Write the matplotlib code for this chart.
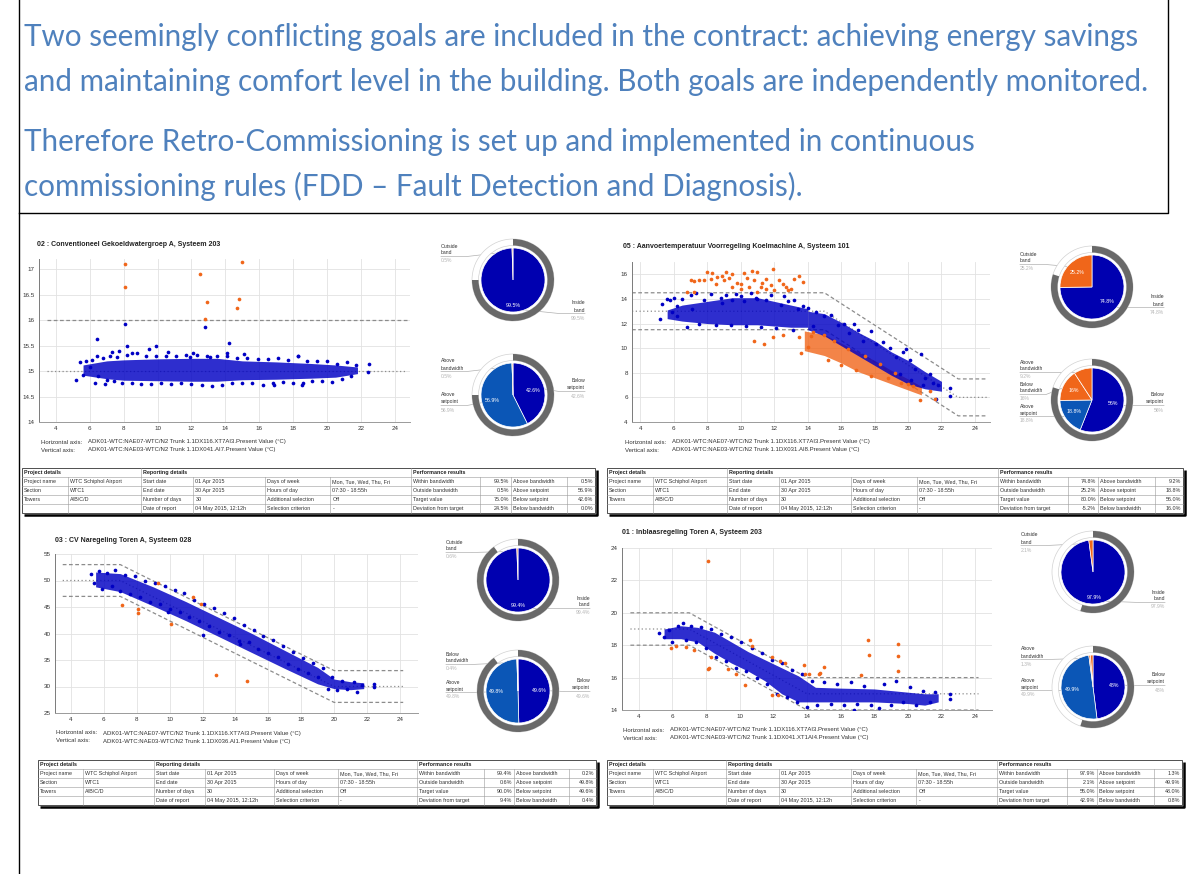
import numpy as np
import matplotlib
matplotlib.use('Agg')
import matplotlib.pyplot as plt
from matplotlib.patches import Wedge, Rectangle
from matplotlib.ticker import FormatStrFormatter

# ---------------- slide text ----------------
intro_lines = [
    'Two seemingly conflicting goals are included in the contract: achieving energy savings',
    'and maintaining comfort level in the building. Both goals are independently monitored.',
    'Therefore Retro-Commissioning is set up and implemented in continuous',
    'commissioning rules (FDD \u2013 Fault Detection and Diagnosis).',
]

# ---------------- table contents (same for all four dashboards) ----------------
project_rows = [['Project name', 'WTC Schiphol Airport'], ['Section', 'WTC1'],
                ['Towers', 'A/B/C/D'], ['', '']]
report_rows = [['Start date', '01 Apr 2015', 'Days of week', 'Mon, Tue, Wed, Thu, Fri'],
               ['End date', '30 Apr 2015', 'Hours of day', '07:30 - 18:55h'],
               ['Number of days', '30', 'Additional selection', 'Off'],
               ['Date of report', '04 May 2015, 12:12h', 'Selection criterion', '-']]
perf_labels = [['Within bandwidth', 'Above bandwidth'], ['Outside bandwidth', 'Above setpoint'],
               ['Target value', 'Below setpoint'], ['Deviation from target', 'Below bandwidth']]

# performance: within, above bw, outside, above sp, target, below sp, deviation, below bw
p1_perf = [99.5, 0.5, 0.5, 56.9, 75.0, 42.6, 24.5, 0.0]
p2_perf = [74.8, 9.2, 25.2, 18.8, 80.0, 56.0, -5.2, 16.0]
p3_perf = [99.4, 0.2, 0.6, 49.8, 90.0, 49.6, 9.4, 0.4]
p4_perf = [97.9, 1.3, 2.1, 49.9, 55.0, 48.0, 42.9, 0.8]

# ---------------- panel 1 ----------------
p1_title = '02 : Conventioneel Gekoeldwatergroep A, Systeem 203'
p1_haxis = 'ADK01-WTC:NAE07-WTC/N2 Trunk 1.1DX116.XT7AI3.Present Value (\u00b0C)'
p1_vaxis = 'ADK01-WTC:NAE03-WTC/N2 Trunk 1.1DX041.AI7.Present Value (\u00b0C)'
p1_band_x = [3.5, 24.7]
p1_upper = [16, 16]
p1_mid = [15, 15]
p1_core_x = [5.6, 7, 8, 10, 12, 13.5, 15, 17, 19, 20.5, 21.8]
p1_core_lo = [14.92, 14.85, 14.82, 14.81, 14.8, 14.8, 14.83, 14.84, 14.86, 14.88, 14.95]
p1_core_hi = [15.12, 15.2, 15.22, 15.24, 15.25, 15.25, 15.2, 15.18, 15.15, 15.12, 15.08]
p1_blue = [(5.2, 14.83), (5.4, 15.17), (5.6, 14.92), (5.8, 15.2), (6.0, 15.08), (6.3, 14.77),
           (6.4, 15.3), (6.5, 14.9), (6.8, 15.25), (7.0, 14.82), (7.2, 15.3), (7.4, 14.8),
           (7.6, 15.28), (7.9, 14.77), (8.2, 15.32), (8.5, 14.76), (8.8, 15.35), (9.0, 14.75),
           (9.3, 15.3), (9.6, 14.74), (9.9, 15.3), (10.2, 14.76), (10.5, 15.3), (10.8, 14.75),
           (11.1, 15.3), (11.4, 14.76), (11.7, 15.32), (12.0, 14.74), (12.3, 15.32), (12.6, 14.72),
           (12.9, 15.3), (13.2, 14.7), (13.5, 15.3), (13.8, 14.72), (14.1, 15.3), (14.4, 14.76),
           (14.7, 15.26), (15.0, 14.76), (15.3, 15.25), (15.6, 14.76), (15.9, 15.24), (16.2, 14.73),
           (16.5, 15.24), (16.8, 14.77), (17.1, 15.25), (17.4, 14.78), (17.7, 15.22), (18.0, 14.76),
           (18.3, 15.3), (18.5, 14.72), (18.8, 15.2), (19.1, 14.8), (19.4, 15.2), (19.7, 14.8),
           (20.0, 15.2), (20.3, 14.78), (20.6, 15.14), (20.9, 14.84), (21.2, 15.17), (21.4, 14.9),
           (21.7, 15.12), (22.5, 15.13), (22.45, 14.98), (6.4, 15.63), (8.1, 15.92), (8.2, 15.5),
           (9.9, 15.5), (12.8, 15.87), (14.2, 15.55), (7.3, 15.38), (7.7, 15.4), (8.5, 15.36),
           (9.5, 15.43), (10.6, 15.38), (15.1, 15.33), (18.3, 15.3), (14.1, 15.35), (12.1, 15.35),
           (6.1, 15.22), (6.9, 14.74), (11.9, 15.28), (13.1, 15.27), (16.9, 14.72), (18.6, 14.76)]
p1_orange = [(8.1, 17.1), (8.1, 16.65), (12.5, 16.9), (12.9, 16.35), (12.8, 16.02),
             (14.8, 16.42), (14.7, 16.23), (15.0, 17.15)]

# ---------------- panel 2 ----------------
p2_title = '05 : Aanvoertemperatuur Voorregeling Koelmachine A, Systeem 101'
p2_haxis = 'ADK01-WTC:NAE07-WTC/N2 Trunk 1.1DX116.XT7AI3.Present Value (\u00b0C)'
p2_vaxis = 'ADK01-WTC:NAE03-WTC/N2 Trunk 1.1DX031.AI8.Present Value (\u00b0C)'
p2_band_x = [3.5, 15, 23, 24.7]
p2_upper = [14.5, 14.5, 7.5, 7.5]
p2_mid = [13, 13, 6, 6]
p2_lower = [11.5, 11.5, 4.5, 4.5]
p2_core_x = [5.6, 6.5, 8, 9.5, 11, 12, 13, 14]
p2_core_lo = [12.4, 12.2, 12.0, 11.9, 11.9, 11.8, 11.7, 11.7]
p2_core_hi = [13.1, 13.5, 13.8, 14.1, 14.1, 13.8, 13.5, 13.2]
p2_diag_x = [14, 15, 16, 17, 18, 19, 20, 21, 22]
p2_diag_lo = [11.5, 11.0, 10.2, 9.4, 8.6, 7.8, 7.1, 6.7, 6.5]
p2_diag_hi = [13.0, 12.8, 12.1, 11.3, 10.6, 9.7, 9.0, 8.1, 7.3]
p2_odiag_x = [13.8, 15, 16, 17, 18, 19, 20, 20.8]
p2_odiag_lo = [9.8, 9.4, 8.8, 8.1, 7.6, 7.1, 6.6, 6.2]
p2_odiag_hi = [11.4, 11.1, 10.4, 9.7, 9.0, 8.2, 7.5, 6.9]
p2_blue = [(5.2, 12.4), (5.3, 13.6), (5.6, 14.0), (5.8, 13.9), (6.0, 14.1), (6.2, 12.6), (6.5, 14.0),
           (6.8, 11.7), (7.0, 14.3), (7.3, 14.45), (7.5, 12.0), (7.8, 13.9), (8.2, 14.4), (8.5, 11.9),
           (8.8, 14.1), (9.1, 14.3), (9.4, 11.9), (9.7, 14.4), (10.0, 14.2), (10.3, 11.8), (10.6, 14.5),
           (10.9, 14.1), (11.2, 11.7), (11.5, 13.9), (11.8, 14.3), (12.1, 11.6), (12.4, 13.5),
           (12.8, 13.8), (13.1, 11.5), (13.4, 13.2), (13.7, 13.4), (14.0, 13.3), (14.3, 11.8),
           (14.5, 12.9), (15.0, 12.6), (15.4, 12.7), (15.8, 11.9), (16.2, 12.0), (16.5, 11.2),
           (17.0, 11.5), (17.3, 10.6), (17.8, 11.4), (18.1, 10.3), (18.5, 10.5), (18.9, 10.0),
           (19.3, 9.3), (19.7, 9.7), (20.1, 9.0), (20.4, 8.3), (20.8, 9.5), (21.0, 7.6), (21.3, 7.9),
           (21.5, 7.2), (21.8, 7.0), (22.5, 6.8), (22.5, 6.1), (21.7, 5.9), (20.9, 7.0), (20.2, 7.4),
           (19.5, 7.9), (9.5, 13.9), (10.2, 13.8), (11.0, 14.0), (8.9, 13.7), (6.2, 13.4),
           (7.1, 13.2), (5.9, 12.9), (12.6, 14.2), (13.2, 13.9), (16.8, 12.0), (19.9, 9.9)]
p2_orange = [(7.0, 15.5), (7.2, 15.45), (7.5, 15.5), (7.8, 15.5), (8.0, 16.2), (8.3, 16.1),
             (9.1, 16.2), (9.5, 16.0), (10.2, 16.1), (10.7, 16.3), (11.0, 16.2), (11.9, 16.4),
             (13.5, 15.9), (13.7, 15.4), (8.6, 15.8), (9.0, 15.5), (9.8, 15.3), (10.5, 15.0),
             (11.2, 15.0), (11.5, 14.8), (12.5, 15.2), (12.8, 14.7), (13.2, 15.6), (12.0, 14.7),
             (10.0, 14.8), (8.5, 15.2), (11.5, 15.6), (9.5, 15.0), (10.8, 15.5), (11.8, 15.1),
             (12.3, 15.5), (13.0, 14.8), (11.0, 14.6), (6.8, 14.6), (7.2, 14.6), (12.7, 15.0),
             (8.9, 15.9), (9.3, 15.7), (10.4, 15.7), (11.3, 15.3), (10.0, 15.2), (8.2, 15.6),
             (10.8, 10.6), (11.4, 10.3), (11.9, 10.9), (12.5, 11.1), (13.5, 10.9), (13.6, 9.6),
             (14.0, 10.1), (14.2, 11.0), (15.2, 9.0), (15.6, 10.6), (16.0, 8.6), (16.4, 9.9),
             (16.9, 8.2), (17.4, 9.4), (17.8, 7.7), (18.3, 8.7), (18.8, 7.6), (19.2, 8.0),
             (19.6, 7.2), (20.0, 7.1), (20.3, 6.9), (20.7, 5.8), (21.3, 6.5), (21.6, 5.9),
             (14.3, 11.3), (15.0, 11.1)]

# ---------------- panel 3 ----------------
p3_title = '03 : CV Naregeling Toren A, Systeem 028'
p3_haxis = 'ADK01-WTC:NAE07-WTC/N2 Trunk 1.1DX116.XT7AI3.Present Value (\u00b0C)'
p3_vaxis = 'ADK01-WTC:NAE03-WTC/N2 Trunk 1.1DX036.AI1.Present Value (\u00b0C)'
p3_band_x = [3.5, 7, 20, 24.2]
p3_upper = [53, 53, 33, 33]
p3_mid = [50, 50, 30, 30]
p3_lower = [47, 47, 27, 27]
p3_core_x = [5.5, 7, 9, 11, 13, 15, 17, 19, 20, 21, 21.8]
p3_core_lo = [48.8, 47.9, 45.2, 42.4, 39.4, 36.4, 33.4, 30.5, 29.6, 29.4, 29.6]
p3_core_hi = [51.6, 51.3, 48.8, 46.0, 43.0, 40.0, 36.8, 33.6, 31.4, 30.9, 30.7]
p3_blue = [(5.2, 51.3), (5.4, 49.6), (5.7, 51.8), (5.9, 48.4), (6.2, 51.5), (6.5, 49.0), (6.7, 51.9),
           (7.0, 48.0), (7.3, 51.1), (7.6, 47.5), (7.9, 50.9), (8.2, 46.8), (8.5, 50.0), (8.8, 46.0),
           (9.1, 49.6), (9.4, 45.5), (9.7, 48.9), (10.0, 44.6), (10.3, 48.3), (10.6, 44.0),
           (10.9, 47.6), (11.2, 43.2), (11.5, 46.4), (11.8, 42.3), (12.1, 45.6), (12.4, 41.5),
           (12.7, 44.8), (13.0, 40.3), (13.3, 43.8), (13.6, 39.7), (13.9, 43.0), (14.2, 38.6),
           (14.5, 41.6), (14.8, 38.4), (15.1, 40.6), (15.4, 37.0), (15.7, 39.6), (16.0, 36.3),
           (16.3, 38.8), (16.6, 35.5), (16.9, 37.7), (17.2, 34.2), (17.5, 36.6), (17.8, 33.3),
           (18.1, 35.3), (18.4, 32.5), (18.7, 34.4), (19.0, 31.7), (19.3, 33.4), (19.6, 29.6),
           (19.9, 31.8), (20.2, 29.4), (20.5, 31.0), (20.8, 29.6), (21.2, 30.8), (21.4, 29.0),
           (21.7, 30.3), (22.4, 30.4), (22.4, 30.0), (9.9, 44.1), (12.0, 39.8), (14.3, 38.0)]
p3_orange = [(9.3, 49.5), (11.4, 46.8), (11.9, 45.6), (7.1, 45.4), (8.1, 44.6), (8.1, 43.8),
             (10.1, 41.8), (12.8, 32.1), (14.7, 31.0)]

# ---------------- panel 4 ----------------
p4_title = '01 : Inblaasregeling Toren A, Systeem 203'
p4_haxis = 'ADK01-WTC:NAE07-WTC/N2 Trunk 1.1DX116.XT7AI3.Present Value (\u00b0C)'
p4_vaxis = 'ADK01-WTC:NAE03-WTC/N2 Trunk 1.1DX041.XT1AI4.Present Value (\u00b0C)'
p4_band_x = [3.5, 7, 14, 24.2]
p4_upper = [20, 20, 16, 16]
p4_mid = [19, 19, 15, 15]
p4_lower = [18, 18, 14, 14]
p4_core_x = [5.5, 6.5, 7.5, 8.5, 9.5, 10.5, 11.5, 12.5, 13.5, 14.5, 16, 18, 20, 21, 21.8]
p4_core_lo = [18.4, 18.4, 18.2, 17.5, 16.9, 16.4, 15.8, 15.0, 14.5, 14.5, 14.5, 14.5, 14.4, 14.3, 14.5]
p4_core_hi = [19.0, 19.2, 19.1, 18.8, 18.2, 17.6, 17.1, 16.6, 16.1, 15.4, 15.35, 15.3, 15.1, 15.0, 15.0]
p4_blue = [(5.2, 18.75), (5.5, 18.5), (5.8, 18.95), (6.0, 18.2), (6.3, 19.2), (6.6, 19.4), (6.8, 18.3),
           (7.1, 19.2), (7.4, 18.2), (7.7, 19.1), (8.0, 17.8), (8.3, 19.0), (8.6, 17.3), (8.9, 18.7),
           (9.2, 17.0), (9.5, 18.5), (9.8, 16.6), (10.1, 18.2), (10.4, 16.4), (10.7, 17.8),
           (11.0, 16.0), (11.3, 17.5), (11.6, 15.6), (11.9, 17.1), (12.2, 15.0), (12.5, 16.9),
           (12.8, 14.8), (13.1, 16.5), (13.4, 14.5), (13.7, 16.2), (14.0, 14.2), (14.3, 15.8),
           (14.6, 14.3), (15.0, 15.7), (15.4, 14.4), (15.8, 15.6), (16.2, 14.3), (16.6, 15.7),
           (17.0, 14.4), (17.4, 15.5), (17.8, 14.3), (18.3, 14.1), (18.6, 15.6), (19.0, 14.3),
           (19.3, 15.8), (19.7, 14.5), (20.1, 15.4), (20.5, 14.3), (20.9, 15.2), (21.3, 14.5),
           (21.6, 15.1), (22.5, 15.0), (22.5, 14.65), (16.8, 14.0)]
p4_orange = [(8.1, 23.2), (5.9, 17.8), (6.2, 17.95), (6.8, 17.9), (7.3, 17.7), (8.3, 17.25),
             (8.1, 16.55), (8.15, 16.6), (9.3, 16.55), (9.8, 16.2), (10.3, 15.55), (10.6, 18.3),
             (10.7, 17.95), (11.9, 17.3), (11.9, 14.9), (12.3, 14.9), (12.4, 17.0), (12.7, 16.9),
             (13.8, 16.75), (13.9, 16.25), (14.1, 16.2), (14.7, 16.2), (14.8, 16.3), (15.0, 16.65),
             (17.2, 16.15), (17.6, 18.3), (17.7, 17.4), (19.4, 18.05), (19.4, 17.35), (19.4, 16.4)]

# ---------------- styling ----------------
W, H = 1188, 874
BLUE = '#0000c4'
PIE_BLUE = '#0000b0'
MID_BLUE = '#0b56b6'
ORANGE = '#f0661a'
RING = '#696969'
TXT_BLUE = '#4f81bd'
TABLE_COLS = [0, 0.080, 0.2076, 0.299, 0.4237, 0.538, 0.679, 0.800, 0.853, 0.951, 1.0]

plt.rcParams['font.family'] = ['Liberation Sans', 'DejaVu Sans']

fig = plt.figure(figsize=(W / 100, H / 100), dpi=100)
canvas = fig.add_axes([0, 0, 1, 1])
canvas.set_xlim(0, W)
canvas.set_ylim(H, 0)
canvas.axis('off')


def px_axes(l, t, r, b):
    return fig.add_axes([l / W, 1 - b / H, (r - l) / W, (b - t) / H])


def draw_scatter(box, xlim, ylim, yticks, band_x, bands, cores, blue, orange, ocores=()):
    ax = px_axes(*box)
    ax.set_xlim(xlim)
    ax.set_ylim(ylim)
    ax.set_xticks(range(4, 25, 2))
    ax.set_yticks(yticks)
    ax.yaxis.set_major_formatter(FormatStrFormatter('%g'))
    ax.grid(True, color='#e2e2e2', lw=0.6)
    ax.set_axisbelow(True)
    ax.set_facecolor('none')
    for s in ['top', 'right']:
        ax.spines[s].set_visible(False)
    ax.spines['left'].set_color('#7a7a7a')
    ax.spines['bottom'].set_color('#9a9a9a')
    ax.spines['left'].set_linewidth(0.7)
    ax.spines['bottom'].set_linewidth(0.7)
    ax.tick_params(length=0, labelsize=4.5, colors='#333333', pad=3)
    for by, style in bands:
        ax.plot(band_x, by, color='#8c8c8c', lw=0.9, ls=style, zorder=2)
    for cx, lo, hi in ocores:
        ax.fill_between(cx, lo, hi, color=ORANGE, alpha=0.8, lw=0, zorder=3)
    for cx, lo, hi in cores:
        ax.fill_between(cx, lo, hi, color=BLUE, alpha=0.82, lw=0, zorder=4)
    ax.scatter([p[0] for p in blue], [p[1] for p in blue], s=7, color=BLUE, lw=0, zorder=5)
    ax.scatter([p[0] for p in orange], [p[1] for p in orange], s=7, color=ORANGE, lw=0, zorder=6)
    return ax


def draw_header(x_title, y_title, title, x_cap, y_cap, haxis, vaxis):
    canvas.text(x_title, y_title, title, fontsize=5, fontweight='bold', color='#222222', va='center')
    canvas.text(x_cap, y_cap, 'Horizontal axis:', fontsize=4.3, color='#333333', va='center')
    canvas.text(x_cap + 47, y_cap, haxis, fontsize=4.3, color='#333333', va='center')
    canvas.text(x_cap, y_cap + 8, 'Vertical axis:', fontsize=4.3, color='#333333', va='center')
    canvas.text(x_cap + 47, y_cap + 8, vaxis, fontsize=4.3, color='#333333', va='center')


def draw_pie(cx, cy, values, colors, target, callouts):
    R = 32
    canvas.add_patch(Wedge((cx, cy), 41, 0, 360, width=6.5, facecolor='white',
                           edgecolor='#d2d2d2', lw=0.5, zorder=2))
    canvas.add_patch(Wedge((cx, cy), 41, -90, -90 + 360 * target / 100, width=6.5,
                           facecolor=RING, lw=0, zorder=3))
    wedges, _ = canvas.pie(values, colors=colors, radius=R, center=(cx, cy), startangle=-90,
                           counterclock=True, frame=True,
                           wedgeprops=dict(edgecolor='white', linewidth=0.5, zorder=4))
    mids = []
    for w, v in zip(wedges, values):
        mid = np.deg2rad((w.theta1 + w.theta2) / 2)
        mids.append(mid)
        if v >= 10:
            d = 0.8 * R if v > 90 else 0.66 * R
            canvas.text(cx + d * np.cos(mid), cy + d * np.sin(mid), f'{v:g}%', fontsize=3.8,
                        color='white', ha='center', va='center', zorder=6)
    for idx, side, dy, name in callouts:
        first, second = name.split(' ')
        y0 = cy + dy
        if side == 'L':
            tx, ha, ex = cx - 72, 'left', cx - 46
        else:
            tx, ha, ex = cx + 72, 'right', cx + 46
        ly = y0 + 10.5
        px = cx + 0.9 * R * np.cos(mids[idx])
        py = cy + 0.9 * R * np.sin(mids[idx])
        canvas.plot([tx, ex, px], [ly, ly, py], color='#b0b0b0', lw=0.5, zorder=1)
        canvas.text(tx, y0, first, fontsize=3.6, color='#333333', ha=ha, va='center', zorder=6)
        canvas.text(tx, y0 + 7, second, fontsize=3.6, color='#333333', ha=ha, va='center', zorder=6)
        canvas.text(tx, y0 + 15, f'{values[idx]:g}%', fontsize=3.6, color='#b5b5b5', ha=ha,
                    va='center', zorder=6)


def draw_pies(cx, cy_top, cy_bot, perf, top_callouts, bot_callouts):
    draw_pie(cx, cy_top, [perf[0], perf[2]], [PIE_BLUE, ORANGE], perf[4], top_callouts)
    draw_pie(cx, cy_bot, [perf[5], perf[3], perf[7], perf[1]],
             [PIE_BLUE, MID_BLUE, ORANGE, ORANGE], perf[4], bot_callouts)


def draw_table(l, t, r, b, perf):
    w = r - l
    xs = [l + f * w for f in TABLE_COLS]
    ys = [t + i * (b - t) / 5 for i in range(6)]
    canvas.plot([l + 1.5, r + 1.5, r + 1.5], [b + 1.5, b + 1.5, t + 1.5], color='black', lw=1.8,
                zorder=1, solid_capstyle='butt')
    canvas.add_patch(Rectangle((l, t), w, b - t, facecolor='white', edgecolor='#333333', lw=0.6,
                               zorder=2))
    for y in ys[1:-1]:
        canvas.plot([l, r], [y, y], color='#9a9a9a', lw=0.4, zorder=3)
    for i, x in enumerate(xs[1:-1], 1):
        y0 = ys[0] if i in (2, 6) else ys[1]
        canvas.plot([x, x], [y0, b], color='#9a9a9a', lw=0.4, zorder=3)
    fs = 3.9
    for ci, head in zip((0, 2, 6), ('Project details', 'Reporting details', 'Performance results')):
        canvas.text(xs[ci] + 2, (ys[0] + ys[1]) / 2, head, fontsize=fs, fontweight='bold',
                    color='#222222', va='center', zorder=4)
    for ri in range(4):
        yc = (ys[ri + 1] + ys[ri + 2]) / 2
        cells = project_rows[ri] + report_rows[ri]
        for ci, txt in enumerate(cells):
            canvas.text(xs[ci] + 2, yc, txt, fontsize=fs, color='#333333', va='center', zorder=4)
        canvas.text(xs[6] + 2, yc, perf_labels[ri][0], fontsize=fs, color='#333333', va='center',
                    zorder=4)
        canvas.text(xs[8] + 2, yc, perf_labels[ri][1], fontsize=fs, color='#333333', va='center',
                    zorder=4)
        canvas.text(xs[8] - 2, yc, f'{perf[2 * ri]:.1f}%', fontsize=fs, color='#333333',
                    ha='right', va='center', zorder=4)
        canvas.text(xs[10] - 2, yc, f'{perf[2 * ri + 1]:.1f}%', fontsize=fs, color='#333333',
                    ha='right', va='center', zorder=4)


# ---------------- slide frame and text ----------------
canvas.plot([19, 19], [0, H], color='black', lw=1.0)
canvas.plot([19, 1168, 1168], [213, 213, 0], color='black', lw=1.0)
for y, line in zip([46, 91, 151, 196], intro_lines):
    canvas.text(24, y, line, fontsize=21.3, color=TXT_BLUE, family=['Lato', 'DejaVu Sans'],
                va='baseline')

# ---------------- panel 1 ----------------
draw_scatter((39, 259, 410, 422), (3.0, 24.9), (14, 17.2), [14, 14.5, 15, 15.5, 16, 16.5, 17],
             p1_band_x, [(p1_upper, (0, (3, 2))), (p1_mid, (0, (1, 2)))],
             [(p1_core_x, p1_core_lo, p1_core_hi)], p1_blue, p1_orange)
draw_header(37, 244, p1_title, 41, 442, p1_haxis, p1_vaxis)
draw_pies(513, 280, 395, p1_perf,
          [(1, 'L', -34, 'Outside band'), (0, 'R', 23, 'Inside band')],
          [(3, 'L', -34, 'Above bandwidth'), (1, 'L', 0, 'Above setpoint'),
           (0, 'R', -14, 'Below setpoint')])
draw_table(22, 468, 595, 513, p1_perf)

# ---------------- panel 2 ----------------
draw_scatter((632, 262, 990, 422), (3.5, 24.9), (4, 17.0), [4, 6, 8, 10, 12, 14, 16],
             p2_band_x, [(p2_upper, (0, (3, 2))), (p2_mid, (0, (1, 2))), (p2_lower, (0, (3, 2)))],
             [(p2_core_x, p2_core_lo, p2_core_hi), (p2_diag_x, p2_diag_lo, p2_diag_hi)],
             p2_blue, p2_orange, [(p2_odiag_x, p2_odiag_lo, p2_odiag_hi)])
draw_header(623, 246, p2_title, 625, 442, p2_haxis, p2_vaxis)
draw_pies(1092, 287, 400, p2_perf,
          [(1, 'L', -33, 'Outside band'), (0, 'R', 10, 'Inside band')],
          [(3, 'L', -38, 'Above bandwidth'), (2, 'L', -16, 'Below bandwidth'),
           (1, 'L', 6, 'Above setpoint'), (0, 'R', -5, 'Below setpoint')])
draw_table(607, 468, 1183, 513, p2_perf)

# ---------------- panel 3 ----------------
draw_scatter((55, 554, 418, 713), (3.03, 25.1), (25, 55), [25, 30, 35, 40, 45, 50, 55],
             p3_band_x, [(p3_upper, (0, (3, 2))), (p3_mid, (0, (1, 2))), (p3_lower, (0, (3, 2)))],
             [(p3_core_x, p3_core_lo, p3_core_hi)], p3_blue, p3_orange)
draw_header(55, 540, p3_title, 56, 733, p3_haxis, p3_vaxis)
draw_pies(518, 580, 691, p3_perf,
          [(1, 'L', -38, 'Outside band'), (0, 'R', 18, 'Inside band')],
          [(2, 'L', -37, 'Below bandwidth'), (1, 'L', -9, 'Above setpoint'),
           (0, 'R', -10, 'Below setpoint')])
draw_table(38, 760, 596, 805, p3_perf)

# ---------------- panel 4 ----------------
draw_scatter((622, 548, 992, 710), (3.0, 25.0), (14, 24), [14, 16, 18, 20, 22, 24],
             p4_band_x, [(p4_upper, (0, (3, 2))), (p4_mid, (0, (1, 2))), (p4_lower, (0, (3, 2)))],
             [(p4_core_x, p4_core_lo, p4_core_hi)], p4_blue, p4_orange)
draw_header(622, 533, p4_title, 623, 730, p4_haxis, p4_vaxis)
draw_pies(1093, 572, 687, p4_perf,
          [(1, 'L', -37, 'Outside band'), (0, 'R', 20, 'Inside band')],
          [(3, 'L', -38, 'Above bandwidth'), (1, 'L', -7, 'Above setpoint'),
           (0, 'R', -12, 'Below setpoint')])
draw_table(607, 760, 1182, 805, p4_perf)

canvas.set_xlim(0, W)
canvas.set_ylim(H, 0)
fig.savefig('out.png', dpi=100)
